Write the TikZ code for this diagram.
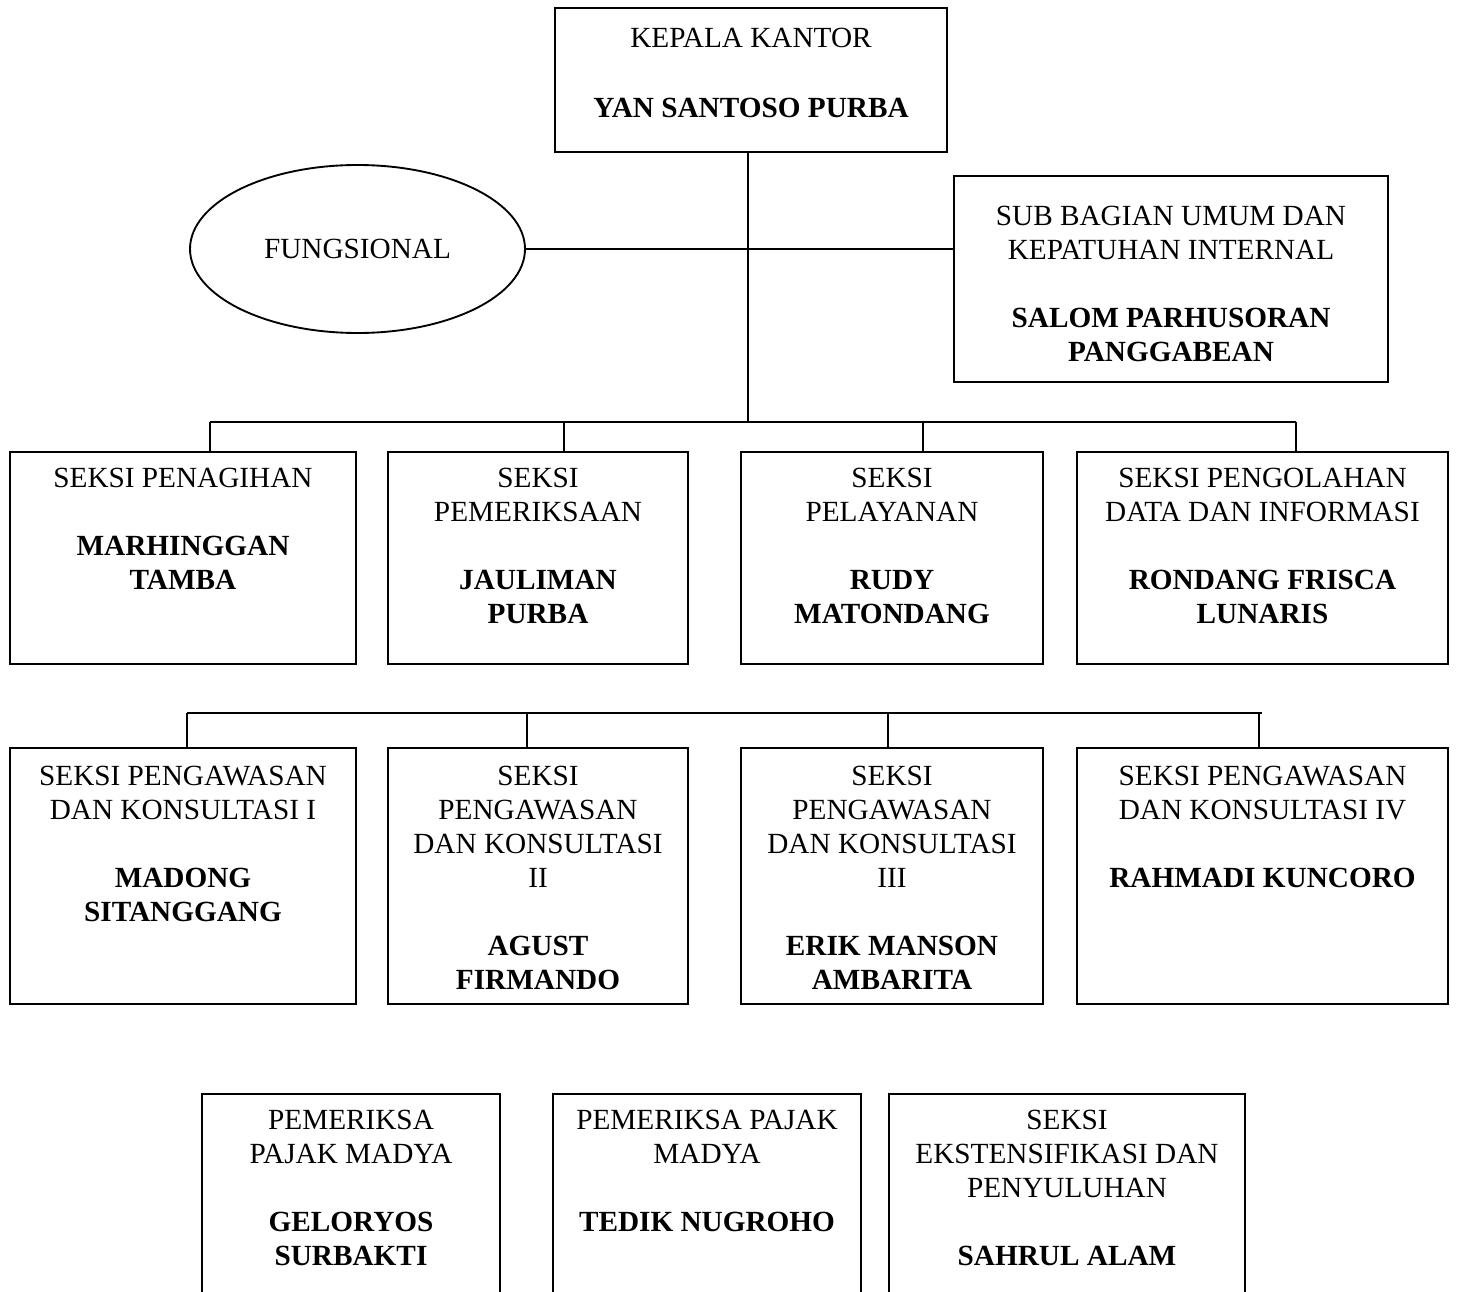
\documentclass[tikz,border=0pt]{standalone}
\usepackage{fontspec}
\setmainfont{Liberation Serif}
\usetikzlibrary{shapes.geometric, positioning}

\begin{document}
\begin{tikzpicture}[x=0.4pt, y=-0.4pt, every node/.style={font=\fontsize{11.7}{13.6}\selectfont}]
\tikzset{box/.style 2 args={draw, line width=0.75pt, inner sep=0pt, minimum width=#1*0.4pt, minimum height=#2*0.4pt}}
\tikzset{txt/.style={anchor=north, align=center, inner sep=0pt, yshift=-6.6pt}}
\tikzset{ln/.style={line width=0.75pt}}
\useasboundingbox (0,0) rectangle (1457,1291);
\clip (0,0) rectangle (1457,1291);
\node[box={392}{144}, label={[txt, yshift=-1.6pt]north:{KEPALA KANTOR\\[14.6pt]\textbf{YAN SANTOSO PURBA}}}] (kk) at (751,80) {};
\node[draw, ellipse, ln, inner sep=0pt, minimum width=335*0.4pt, minimum height=168*0.4pt] (fung) at (357.5,249) {FUNGSIONAL};
\node[box={434}{206}, label={[txt, yshift=-5.6pt]north:{SUB BAGIAN UMUM DAN\\KEPATUHAN INTERNAL\\[13.6pt]\textbf{SALOM PARHUSORAN}\\\textbf{PANGGABEAN}}}] (sbu) at (1171,279) {};
\node[box={346}{212}, label={[txt]north:{SEKSI PENAGIHAN\\[13.6pt]\textbf{MARHINGGAN}\\\textbf{TAMBA}}}] (pnh) at (183,558) {};
\node[box={300}{212}, label={[txt]north:{SEKSI\\PEMERIKSAAN\\[13.6pt]\textbf{JAULIMAN}\\\textbf{PURBA}}}] (pmr) at (538,558) {};
\node[box={302}{212}, label={[txt]north:{SEKSI\\PELAYANAN\\[13.6pt]\textbf{RUDY}\\\textbf{MATONDANG}}}] (ply) at (892,558) {};
\node[box={371}{212}, label={[txt]north:{SEKSI PENGOLAHAN\\DATA DAN INFORMASI\\[13.6pt]\textbf{RONDANG FRISCA}\\\textbf{LUNARIS}}}] (pdi) at (1262.5,558) {};
\node[box={346}{256}, label={[txt, yshift=-0.8pt]north:{SEKSI PENGAWASAN\\DAN KONSULTASI I\\[13.6pt]\textbf{MADONG}\\\textbf{SITANGGANG}}}] (pk1) at (183,876) {};
\node[box={300}{256}, label={[txt, yshift=-0.8pt]north:{SEKSI\\PENGAWASAN\\DAN KONSULTASI\\II\\[13.6pt]\textbf{AGUST}\\\textbf{FIRMANDO}}}] (pk2) at (538,876) {};
\node[box={302}{256}, label={[txt, yshift=-0.8pt]north:{SEKSI\\PENGAWASAN\\DAN KONSULTASI\\III\\[13.6pt]\textbf{ERIK MANSON}\\\textbf{AMBARITA}}}] (pk3) at (892,876) {};
\node[box={371}{256}, label={[txt, yshift=-0.8pt]north:{SEKSI PENGAWASAN\\DAN KONSULTASI IV\\[13.6pt]\textbf{RAHMADI KUNCORO}}}] (pk4) at (1262.5,876) {};
\node[box={298}{230}, label={[txt]north:{PEMERIKSA\\PAJAK MADYA\\[13.6pt]\textbf{GELORYOS}\\\textbf{SURBAKTI}}}] (ppa) at (351,1209) {};
\node[box={308}{230}, label={[txt]north:{PEMERIKSA PAJAK\\MADYA\\[13.6pt]\textbf{TEDIK NUGROHO}}}] (ppb) at (707,1209) {};
\node[box={356}{230}, label={[txt]north:{SEKSI\\EKSTENSIFIKASI DAN\\PENYULUHAN\\[13.6pt]\textbf{SAHRUL ALAM}}}] (eks) at (1067,1209) {};
\coordinate (bus1) at (748,422);
\coordinate (bus2) at (725,713);
\draw[ln] (kk.south -| bus1) -- (bus1);
\draw[ln] (fung.east) -- (fung.east -| sbu.west);
\draw[ln] (210,422) -- (1296,422);
\foreach \x/\n in {210/pnh, 564/pmr, 923/ply, 1296/pdi}
  \draw[ln] (\x,422) -- (\n.north -| \x,422);
\draw[ln] (187,713) -- (1262,713);
\foreach \x/\n in {187/pk1, 527/pk2, 888/pk3, 1259/pk4}
  \draw[ln] (\x,713) -- (\n.north -| \x,713);
\end{tikzpicture}
\end{document}
